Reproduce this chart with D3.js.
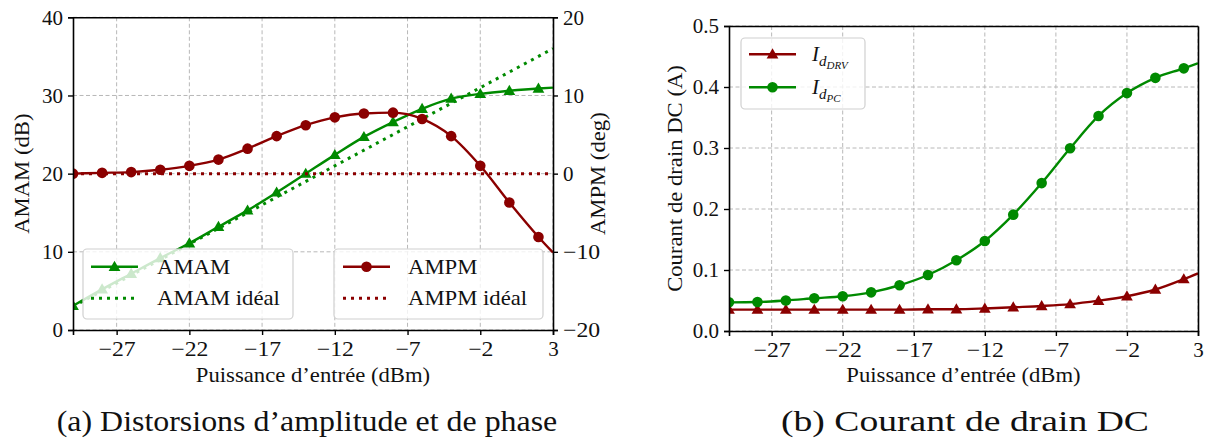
<!DOCTYPE html>
<html>
<head>
<meta charset="utf-8">
<script src="https://cdn.jsdelivr.net/npm/d3@7"></script>
<style>
  html, body { margin: 0; padding: 0; background: #fff; }
  svg { display: block; }
  text { font-family: "Liberation Serif", "DejaVu Serif", serif; fill: #111; }
</style>
</head>
<body>
<svg id="fig" width="1208" height="443"></svg>
<script>
// ---------------- data ----------------
const powerIn = [-30, -28, -26, -24, -22, -20, -18, -16, -14, -12, -10, -8, -6, -4, -2, 0, 2, 3];
const amam    = [3.1, 5.2, 7.2, 9.2, 11.1, 13.2, 15.3, 17.6, 20.0, 22.4, 24.7, 26.6, 28.3, 29.6, 30.2, 30.6, 30.9, 31.0];
const ampm    = [0.0, 0.1, 0.2, 0.5, 1.0, 1.8, 3.2, 4.8, 6.2, 7.2, 7.7, 7.8, 7.0, 4.8, 1.0, -3.7, -8.1, -10.1];
const idealPower = [-30, 3];
const amamIdeal  = [3, 36];
const ampmIdeal  = [0, 0];
const idDRV = [0.035, 0.035, 0.035, 0.035, 0.035, 0.035, 0.035, 0.0357, 0.0357, 0.037, 0.039, 0.041, 0.044, 0.0497, 0.057, 0.068, 0.085, 0.0945];
const idPC  = [0.047, 0.0475, 0.050, 0.0536, 0.057, 0.0634, 0.075, 0.0918, 0.116, 0.1475, 0.1907, 0.2425, 0.2995, 0.3525, 0.390, 0.415, 0.4306, 0.4389];
const xTicks = [-27, -22, -17, -12, -7, -2, 3];
const amamTicks = [0, 10, 20, 30, 40];
const ampmTicks = [-20, -10, 0, 10, 20];
const idTicks = [0.0, 0.1, 0.2, 0.3, 0.4, 0.5];
const xLabel = "Puissance d\u2019entr\u00e9e (dBm)";
const captionA = "(a) Distorsions d\u2019amplitude et de phase";
const captionB = "(b) Courant de drain DC";

// ---------------- style ----------------
const GREEN = "#008a00";
const RED = "#8b0000";
const FS = 21;
const svg = d3.select("#fig");
svg.append("rect").attr("width", 1208).attr("height", 443).attr("fill", "#fff");

const fmtInt = d3.format("d");
const fmtDec = d3.format(".1f");

// stretch Times-like glyphs toward Computer Modern widths
function widen(sel, factor) {
  sel.each(function () {
    const w = this.getComputedTextLength();
    d3.select(this).attr("textLength", w * factor).attr("lengthAdjust", "spacingAndGlyphs");
  });
  return sel;
}

function isMarker(d) { return d.x % 2 === 0; }

function makeGrid(g, x, y, yTicks) {
  const [x0, x1] = x.range();
  const [y1, y0] = y.range();
  const grid = g.append("g");
  grid.selectAll("line.vx").data(xTicks).join("line")
    .attr("x1", d => x(d)).attr("x2", d => x(d)).attr("y1", y0).attr("y2", y1)
    .attr("stroke", "#b8b8b8").attr("stroke-width", 1).attr("stroke-dasharray", "4,2.5");
  grid.selectAll("line.hy").data(yTicks).join("line")
    .attr("x1", x0).attr("x2", x1).attr("y1", d => y(d)).attr("y2", d => y(d))
    .attr("stroke", "#b8b8b8").attr("stroke-width", 1).attr("stroke-dasharray", "4,2.5");
}

function drawAxisFrame(g, x, y, yFmt, yTicks, y2, y2Ticks) {
  const [x0, x1] = x.range();
  const [y1, y0] = y.range();
  const ax = g.append("g");
  ax.append("g").attr("transform", `translate(0,${y1})`)
    .call(d3.axisBottom(x).tickValues(xTicks).tickFormat(fmtInt).tickSize(5).tickPadding(6));
  ax.append("g").attr("transform", `translate(${x0},0)`)
    .call(d3.axisLeft(y).tickValues(yTicks).tickFormat(yFmt).tickSize(5).tickPadding(5));
  const right = ax.append("g").attr("transform", `translate(${x1},0)`);
  if (y2) {
    right.call(d3.axisRight(y2).tickValues(y2Ticks).tickFormat(fmtInt).tickSize(5).tickPadding(5));
  } else {
    right.call(d3.axisRight(y).tickValues([]).tickSize(0));
  }
  ax.append("g").attr("transform", `translate(0,${y0})`)
    .call(d3.axisTop(x).tickValues([]).tickSize(0));
  ax.selectAll(".domain").attr("stroke", "#000").attr("stroke-width", 1.6);
  ax.selectAll(".tick line").attr("stroke", "#000").attr("stroke-width", 1.4);
  const tt = ax.selectAll(".tick text").style("font-family", '"Liberation Serif", serif')
    .style("font-size", FS + "px").attr("fill", "#111");
  widen(tt.filter(function () { return this.textContent.startsWith("\u2212"); }), 1.13);
}

function seriesPath(g, x, y, xs, ys, color, dash, width) {
  const data = xs.map((v, i) => ({x: v, y: ys[i]}));
  g.append("path").datum(data)
    .attr("fill", "none").attr("stroke", color).attr("stroke-width", width)
    .attr("stroke-dasharray", dash || null)
    .attr("d", d3.line().x(d => x(d.x)).y(d => y(d.y)).curve(d3.curveMonotoneX));
  return data;
}

function circles(g, x, y, data, color) {
  g.selectAll(null).data(data.filter(isMarker)).join("circle")
    .attr("cx", d => x(d.x)).attr("cy", d => y(d.y)).attr("r", 5.3).attr("fill", color);
}
const tri = d3.symbol().type(d3.symbolTriangle).size(60);
function triangles(g, x, y, data, color) {
  g.selectAll(null).data(data.filter(isMarker)).join("path")
    .attr("transform", d => `translate(${x(d.x)},${y(d.y) + 0.8})`)
    .attr("d", tri).attr("fill", color);
}

function legendBox(g, bx, by, bw, bh, entries) {
  const lg = g.append("g");
  lg.append("rect").attr("x", bx).attr("y", by).attr("width", bw).attr("height", bh)
    .attr("rx", 4).attr("fill", "#fff").attr("fill-opacity", 0.8)
    .attr("stroke", "#d0d0d0").attr("stroke-width", 1.2);
  entries.forEach(e => {
    lg.append("line").attr("x1", e.lx0).attr("x2", e.lx1).attr("y1", e.y).attr("y2", e.y)
      .attr("stroke", e.color).attr("stroke-width", e.dash ? 3 : 2.4)
      .attr("stroke-dasharray", e.dash || null);
    const cx = (e.lx0 + e.lx1) / 2;
    if (e.marker === "circle") {
      lg.append("circle").attr("cx", cx).attr("cy", e.y).attr("r", 5.3).attr("fill", e.color);
    } else if (e.marker === "triangle") {
      lg.append("path").attr("transform", `translate(${cx},${e.y + 0.8})`).attr("d", tri).attr("fill", e.color);
    }
    const t = lg.append("text").attr("x", e.tx).attr("y", e.y + 7).style("font-size", FS + "px");
    if (e.sub) {
      t.append("tspan").attr("font-style", "italic").text("I");
      t.append("tspan").attr("font-style", "italic").attr("dy", 5).style("font-size", "15px").text("d");
      t.append("tspan").attr("font-style", "italic").attr("dy", 3).style("font-size", "11px").text(e.sub);
    } else {
      t.text(e.label);
      widen(t, 1.08);
    }
  });
}

function label(g, txt, x, y, rotate, size, factor) {
  const t = g.append("text")
    .attr("transform", `translate(${x},${y})` + (rotate ? " rotate(-90)" : ""))
    .attr("text-anchor", "middle").style("font-size", size + "px").text(txt);
  widen(t, factor);
  return t;
}

// ---------------- chart (a) ----------------
{
  const x = d3.scaleLinear().domain([-30, 3]).range([73, 553]);
  const y = d3.scaleLinear().domain([0, 40]).range([330, 17.3]);
  const y2 = d3.scaleLinear().domain([-20, 20]).range([330, 17.3]);
  const g = svg.append("g");
  makeGrid(g, x, y, amamTicks);
  g.append("clipPath").attr("id", "clipA").append("rect")
    .attr("x", 73).attr("y", 17.3).attr("width", 480).attr("height", 312.7);
  const pg = g.append("g").attr("clip-path", "url(#clipA)");
  seriesPath(pg, x, y, idealPower, amamIdeal, GREEN, "3,5", 3);
  const dA = seriesPath(pg, x, y, powerIn, amam, GREEN, null, 2.4);
  triangles(pg, x, y, dA, GREEN);
  seriesPath(pg, x, y2, idealPower, ampmIdeal, RED, "3,5", 3);
  const dP = seriesPath(pg, x, y2, powerIn, ampm, RED, null, 2.4);
  circles(pg, x, y2, dP, RED);
  drawAxisFrame(g, x, y, fmtInt, amamTicks, y2, ampmTicks);

  label(g, xLabel, 313, 382, false, FS, 1.08);
  label(g, "AMAM (dB)", 29, 173.7, true, FS, 1.08);
  label(g, "AMPM (deg)", 605, 173.7, true, FS, 1.08);

  legendBox(g, 83, 249, 210, 70, [
    {lx0: 91, lx1: 138, y: 266.7, color: GREEN, marker: "triangle", tx: 157, label: "AMAM"},
    {lx0: 91, lx1: 138, y: 298.3, color: GREEN, dash: "3,5", tx: 157, label: "AMAM id\u00e9al"}
  ]);
  legendBox(g, 334, 249, 209, 70, [
    {lx0: 343, lx1: 390, y: 266.7, color: RED, marker: "circle", tx: 408, label: "AMPM"},
    {lx0: 343, lx1: 390, y: 298.3, color: RED, dash: "3,5", tx: 408, label: "AMPM id\u00e9al"}
  ]);

  label(g, captionA, 307, 431, false, 29, 1.1);
}

// ---------------- chart (b) ----------------
{
  const x = d3.scaleLinear().domain([-30, 3]).range([729, 1198]);
  const y = d3.scaleLinear().domain([0, 0.5]).range([331, 26]);
  const g = svg.append("g");
  makeGrid(g, x, y, idTicks);
  g.append("clipPath").attr("id", "clipB").append("rect")
    .attr("x", 729).attr("y", 26).attr("width", 469).attr("height", 305);
  const pg = g.append("g").attr("clip-path", "url(#clipB)");
  const dD = seriesPath(pg, x, y, powerIn, idDRV, RED, null, 2.4);
  triangles(pg, x, y, dD, RED);
  const dC = seriesPath(pg, x, y, powerIn, idPC, GREEN, null, 2.4);
  circles(pg, x, y, dC, GREEN);
  drawAxisFrame(g, x, y, fmtDec, idTicks, null, null);

  label(g, xLabel, 963.5, 382, false, FS, 1.08);
  label(g, "Courant de drain DC (A)", 682, 178.5, true, FS, 1.08);

  legendBox(g, 741, 38, 124, 71, [
    {lx0: 749, lx1: 796, y: 54.3, color: RED, marker: "triangle", tx: 812, sub: "DRV"},
    {lx0: 749, lx1: 796, y: 87.3, color: GREEN, marker: "circle", tx: 812, sub: "PC"}
  ]);

  label(g, captionB, 965, 431, false, 29, 1.0).attr("textLength", 368);
}
</script>
</body>
</html>
